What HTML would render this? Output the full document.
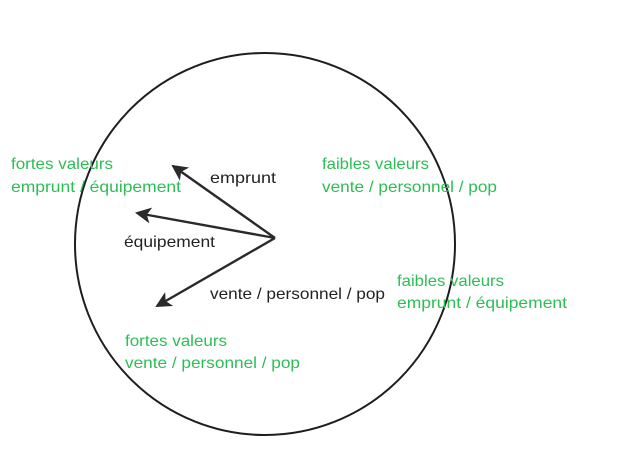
<!DOCTYPE html>
<html><head><meta charset="utf-8"><style>
html,body{margin:0;padding:0;background:#fff;width:622px;height:467px;overflow:hidden}
text{font-family:"Liberation Sans","DejaVu Sans",sans-serif;font-size:16px}
.g{fill:#2dbd55}.k{fill:#222}
</style></head><body>
<svg width="622" height="467" viewBox="0 0 622 467" xmlns="http://www.w3.org/2000/svg">
<defs><marker id="a" markerWidth="16" markerHeight="16" refX="14" refY="8" orient="auto" markerUnits="userSpaceOnUse" viewBox="0 0 16 16"><path d="M0,0 L16,8 L0,16 L4,8 z" fill="#2a2a2a"/></marker></defs>
<ellipse cx="265" cy="244" rx="190" ry="191" fill="none" stroke="#1e1e1e" stroke-width="2"/>
<g stroke="#2a2a2a" stroke-width="2.4" fill="none">
<line x1="275" y1="238" x2="173" y2="166" marker-end="url(#a)"/>
<line x1="275" y1="238" x2="137" y2="213" marker-end="url(#a)"/>
<line x1="275" y1="238" x2="157" y2="306" marker-end="url(#a)"/>
</g>
<text class="k" x="210" y="183" textLength="66" lengthAdjust="spacingAndGlyphs">emprunt</text>
<text class="k" x="124" y="247" textLength="91" lengthAdjust="spacingAndGlyphs">équipement</text>
<text class="k" x="210" y="299" textLength="175" lengthAdjust="spacingAndGlyphs">vente / personnel / pop</text>
<text class="g" x="11" y="169" textLength="102" lengthAdjust="spacingAndGlyphs">fortes valeurs</text>
<text class="g" x="11" y="192" textLength="170" lengthAdjust="spacingAndGlyphs">emprunt / équipement</text>
<text class="g" x="322" y="169" textLength="107" lengthAdjust="spacingAndGlyphs">faibles valeurs</text>
<text class="g" x="322" y="192" textLength="175" lengthAdjust="spacingAndGlyphs">vente / personnel / pop</text>
<text class="g" x="397" y="286" textLength="107" lengthAdjust="spacingAndGlyphs">faibles valeurs</text>
<text class="g" x="397" y="308" textLength="170" lengthAdjust="spacingAndGlyphs">emprunt / équipement</text>
<text class="g" x="125" y="346" textLength="102" lengthAdjust="spacingAndGlyphs">fortes valeurs</text>
<text class="g" x="125" y="368" textLength="175" lengthAdjust="spacingAndGlyphs">vente / personnel / pop</text>
</svg>
</body></html>
